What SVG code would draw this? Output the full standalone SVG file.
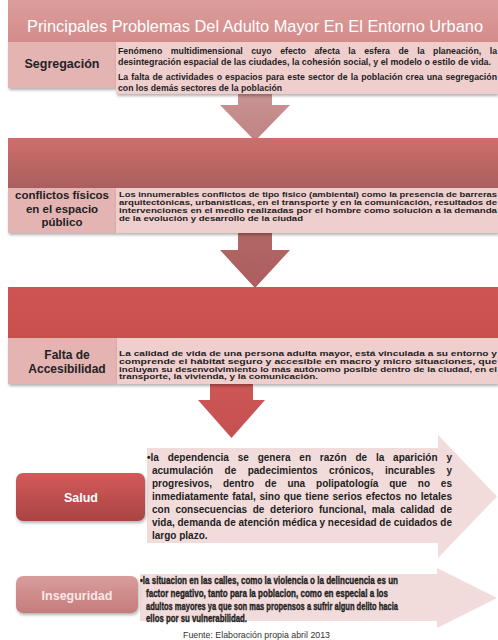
<svg xmlns="http://www.w3.org/2000/svg" width="498" height="640" viewBox="0 0 498 640">
<defs>
<linearGradient id="gHead" x1="0" y1="0" x2="0" y2="1"><stop offset="0" stop-color="#dc9d9c"/><stop offset="1" stop-color="#d38c8b"/></linearGradient>
<linearGradient id="gBand2" x1="0" y1="0" x2="0" y2="1"><stop offset="0" stop-color="#cf6e6c"/><stop offset="1" stop-color="#a95f5e"/></linearGradient>
<linearGradient id="gBand3" x1="0" y1="0" x2="0" y2="1"><stop offset="0" stop-color="#cf5554"/><stop offset="1" stop-color="#c94f4d"/></linearGradient>
<linearGradient id="gArr1" x1="0" y1="0" x2="0" y2="1"><stop offset="0" stop-color="#c99393"/><stop offset="1" stop-color="#bf8383"/></linearGradient>
<linearGradient id="gArr2" x1="0" y1="0" x2="0" y2="1"><stop offset="0" stop-color="#b26767"/><stop offset="1" stop-color="#ad5e5e"/></linearGradient>
<linearGradient id="gArr3" x1="0" y1="0" x2="0" y2="1"><stop offset="0" stop-color="#cd5755"/><stop offset="1" stop-color="#c45150"/></linearGradient>
<linearGradient id="gSalud" x1="0" y1="0" x2="0" y2="1"><stop offset="0" stop-color="#d45a59"/><stop offset="1" stop-color="#a94443"/></linearGradient>
<linearGradient id="gInseg" x1="0" y1="0" x2="0" y2="1"><stop offset="0" stop-color="#d99d9c"/><stop offset="1" stop-color="#c47c7b"/></linearGradient>
<filter id="sh" x="-5%" y="-10%" width="110%" height="130%"><feDropShadow dx="1" dy="2" stdDeviation="1.5" flood-color="#000" flood-opacity="0.3"/></filter>
</defs>
<style>
.t{font-family:"Liberation Sans",Arial,sans-serif;font-weight:bold;fill:#1e1e1e}
.lab{font-family:"Liberation Sans",Arial,sans-serif;font-weight:bold;fill:#222;text-anchor:middle}
.cellL{fill:#e4b4b3}
.cellR{fill:#efcfce}
.big{fill:#f2dbdb}
</style>
<rect width="498" height="640" fill="#fff"/>

<g id="connectors">
<path d="M238,93 H272 V105 H290 L255,141 L220,105 H238 Z" fill="url(#gArr1)"/>
<path d="M238,231 H272 V250 H290 L255,288 L220,250 H238 Z" fill="url(#gArr2)"/>
<path d="M210,382 H253 V400 H265 L231.5,438 L198,400 H210 Z" fill="url(#gArr3)"/>
</g>

<g id="header">
<rect x="8" y="0" width="490" height="42" fill="url(#gHead)"/>
<text x="255" y="32" font-family="Liberation Sans,Arial,sans-serif" font-size="16.3" fill="#fff" text-anchor="middle" textLength="456" lengthAdjust="spacingAndGlyphs">Principales Problemas Del Adulto Mayor En El Entorno Urbano</text>
</g>

<g id="segregacion">
<rect class="cellL" x="8" y="42" width="108" height="46" filter="url(#sh)"/>
<rect class="cellR" x="116" y="42" width="382" height="52" filter="url(#sh)"/>
<text class="lab" x="62" y="68" font-size="12.5">Segregación</text>
<g class="t" font-size="8.75">
<text x="118" y="54" word-spacing="6.1" textLength="379" lengthAdjust="spacingAndGlyphs">Fenómeno multidimensional cuyo efecto afecta la esfera de la planeación, la</text>
<text x="118" y="65" textLength="373" lengthAdjust="spacingAndGlyphs">desintegración espacial de las ciudades, la cohesión social, y el modelo o estilo de vida.</text>
<text x="118" y="80" word-spacing="0.7" textLength="379" lengthAdjust="spacingAndGlyphs">La falta de actividades o espacios para este sector de la población crea una segregación</text>
<text x="118" y="91" textLength="164" lengthAdjust="spacingAndGlyphs">con los demás sectores de la población</text>
</g>
</g>

<g id="conflictos">
<rect x="8" y="138" width="490" height="50" fill="url(#gBand2)"/>
<rect class="cellL" x="8" y="188" width="108" height="45" filter="url(#sh)"/>
<rect class="cellR" x="116" y="188" width="382" height="45" filter="url(#sh)"/>
<text class="lab" x="62" y="199" font-size="11.5">conflictos físicos</text>
<text class="lab" x="62" y="212.5" font-size="11.5">en el espacio</text>
<text class="lab" x="62" y="226" font-size="11.5">público</text>
<g class="t" font-size="8">
<text x="119" y="197" textLength="378" lengthAdjust="spacingAndGlyphs">Los innumerables conflictos de tipo físico (ambiental) como la presencia de barreras</text>
<text x="119" y="205" textLength="378" lengthAdjust="spacingAndGlyphs">arquitectónicas, urbanísticas, en el transporte y en la comunicación, resultados de</text>
<text x="119" y="212.5" textLength="378" lengthAdjust="spacingAndGlyphs">intervenciones en el medio realizadas por el hombre como solución a la demanda</text>
<text x="119" y="220.5" textLength="184" lengthAdjust="spacingAndGlyphs">de la evolución y desarrollo de  la ciudad</text>
</g>
</g>

<g id="accesibilidad">
<rect x="8" y="287" width="490" height="51" fill="url(#gBand3)"/>
<rect class="cellL" x="8" y="338" width="109" height="46" filter="url(#sh)"/>
<rect class="cellR" x="117" y="338" width="381" height="46" filter="url(#sh)"/>
<text class="lab" x="67" y="359" font-size="12">Falta de</text>
<text class="lab" x="67" y="373" font-size="12">Accesibilidad</text>
<g class="t" font-size="8">
<text x="119" y="356" textLength="378" lengthAdjust="spacingAndGlyphs">La calidad de vida de una persona adulta mayor, está vinculada a su entorno y</text>
<text x="119" y="364" textLength="378" lengthAdjust="spacingAndGlyphs">comprende el hábitat seguro y accesible en macro y micro situaciones, que</text>
<text x="119" y="371.5" textLength="378" lengthAdjust="spacingAndGlyphs">incluyan su desenvolvimiento lo más autónomo posible dentro de la ciudad, en el</text>
<text x="119" y="379" textLength="199" lengthAdjust="spacingAndGlyphs">transporte, la vivienda, y  la comunicación.</text>
</g>
</g>

<g id="salud">
<path class="big" d="M147,448 H438 V435 L497,496.5 L438,558 V543 H147 Z"/>
<rect x="16" y="473" width="129" height="48" rx="7" fill="url(#gSalud)" filter="url(#sh)"/>
<text class="lab" x="81" y="502" font-size="12.5" style="fill:#fff">Salud</text>
<g class="t" font-size="10">
<text x="147" y="461" word-spacing="6.08" textLength="305" lengthAdjust="spacingAndGlyphs">•la dependencia se genera en razón de la aparición y</text>
<text x="152" y="474" word-spacing="8.64" textLength="300" lengthAdjust="spacingAndGlyphs">acumulación de padecimientos crónicos, incurables y</text>
<text x="152" y="487" word-spacing="8.09" textLength="300" lengthAdjust="spacingAndGlyphs">progresivos, dentro de una polipatología que no es</text>
<text x="152" y="500" word-spacing="0.88" textLength="300" lengthAdjust="spacingAndGlyphs">inmediatamente fatal, sino que tiene serios efectos no letales</text>
<text x="152" y="513" word-spacing="2.84" textLength="300" lengthAdjust="spacingAndGlyphs">con consecuencias de deterioro funcional, mala calidad de</text>
<text x="152" y="526" textLength="300" lengthAdjust="spacingAndGlyphs">vida, demanda de atención médica y necesidad de cuidados de</text>
<text x="152" y="538.5">largo plazo.</text>
</g>
</g>

<g id="inseguridad">
<path class="big" d="M140,574 H437 V568 L497,598 L437,628 V621 H140 Z"/>
<rect x="16" y="576" width="122" height="37" rx="7" fill="url(#gInseg)" filter="url(#sh)"/>
<text class="lab" x="77" y="600" font-size="12.5" style="fill:#f8e8e8">Inseguridad</text>
<g class="t" font-size="10.5" stroke="#1e1e1e" stroke-width="0.35">
<text x="140" y="584" textLength="258" lengthAdjust="spacingAndGlyphs">•la situacion en las calles, como la violencia o la delincuencia es un</text>
<text x="146" y="597" textLength="242" lengthAdjust="spacingAndGlyphs">factor negativo, tanto para la poblacion, como en especial a los</text>
<text x="146" y="609.5" textLength="252" lengthAdjust="spacingAndGlyphs">adultos mayores ya que son mas propensos a sufrir algun delito hacia</text>
<text x="146" y="621.5" textLength="101" lengthAdjust="spacingAndGlyphs">ellos por su vulnerabilidad.</text>
</g>
</g>

<g id="caption">
<text x="256.5" y="638" font-family="Liberation Sans,Arial,sans-serif" font-size="9" fill="#333" text-anchor="middle" textLength="147" lengthAdjust="spacingAndGlyphs">Fuente: Elaboración propia abril 2013</text>
</g>
</svg>
